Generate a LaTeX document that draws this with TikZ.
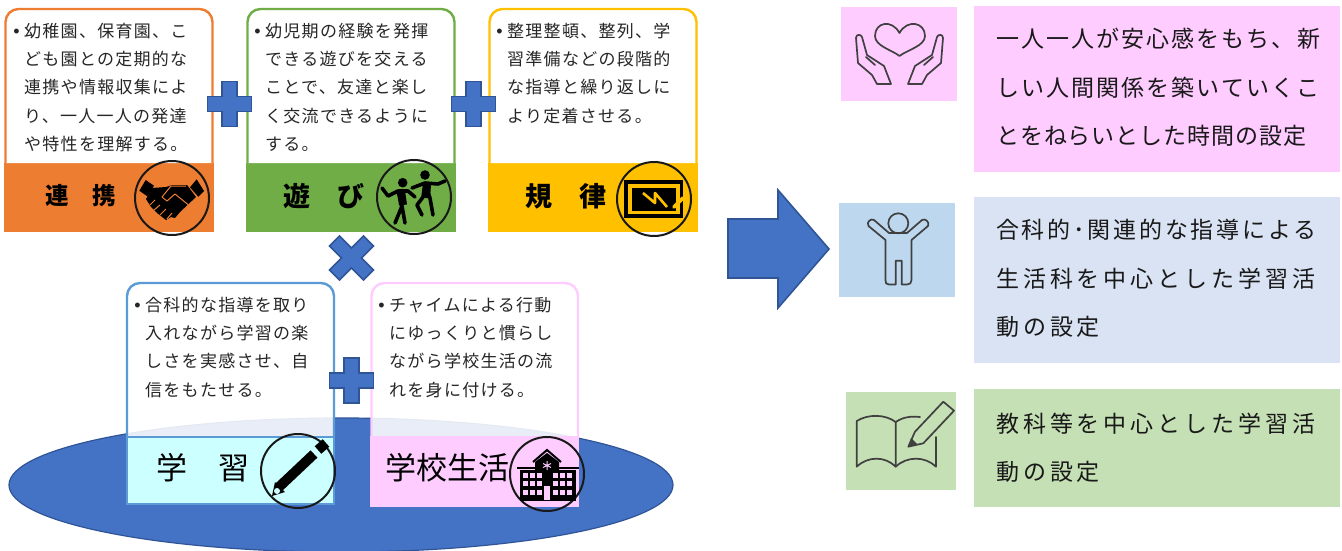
\documentclass[tikz,border=0pt]{standalone}
\usepackage{fontspec}
\usetikzlibrary{shapes.geometric}
\setmainfont{Noto Sans CJK JP}
\newfontfamily\fontS{Noto Sans CJK JP}[LetterSpace=7.5]
\newfontfamily\fontB{Noto Sans CJK JP}[LetterSpace=9]
\newfontfamily\fontN{Noto Sans CJK JP}[LetterSpace=4]
\newfontfamily\fontM{Noto Sans CJK JP}[LetterSpace=12]
\newfontfamily\fontW{Noto Sans CJK JP}[LetterSpace=17]
\newfontfamily\bul{Liberation Sans}
\definecolor{blueA}{HTML}{4472C4}
\definecolor{blueB}{HTML}{2F5597}
\definecolor{orangeA}{HTML}{ED7D31}
\definecolor{greenA}{HTML}{70AD47}
\definecolor{goldA}{HTML}{FFC000}
\definecolor{skyA}{HTML}{5B9BD5}
\definecolor{pinkA}{HTML}{FFCCFF}
\definecolor{cyanA}{HTML}{CCFFFF}
\definecolor{icoA}{HTML}{BDD7EE}
\definecolor{txtB}{HTML}{DAE3F3}
\definecolor{grnB}{HTML}{C5E0B4}
\definecolor{inkA}{HTML}{404040}
\newcommand{\bu}{\llap{\bul\fontsize{18}{18}\selectfont •\hspace{4.5pt}}}
\tikzset{
  x=1pt,y=-1pt,
  bodytext/.style={anchor=north west,inner sep=0pt,align=left,text=black!85,font=\fontS\fontsize{17}{28.2}\selectfont},
  righttext/.style={anchor=north west,inner sep=0pt,align=left,text=black!90,font=\fontB\fontsize{23}{48.5}\selectfont},
  title/.style={inner sep=0pt,text=black,font=\bfseries\fontsize{#1}{#1}\selectfont},
  ring/.style={draw=black!90,line width=2pt,circle,minimum size=74pt,inner sep=0pt},
  solidmark/.style={fill=blueA,draw=blueB,line width=1.6pt,line join=miter},
  outline/.style={draw=inkA,line width=1.7pt,line join=round,line cap=round},
  plusmark/.pic={\path[solidmark] (-22,-7.5)--(-7.5,-7.5)--(-7.5,-22.5)--(7.5,-22.5)--(7.5,-7.5)--(22,-7.5)--(22,7.5)--(7.5,7.5)--(7.5,22.5)--(-7.5,22.5)--(-7.5,7.5)--(-22,7.5)--cycle;},
  timesmark/.pic={\path[solidmark,rotate=45] (-24,-7)--(-7,-7)--(-7,-24)--(7,-24)--(7,-7)--(24,-7)--(24,7)--(7,7)--(7,24)--(-7,24)--(-7,7)--(-24,7)--cycle;},
}
\begin{document}
\begin{tikzpicture}
\useasboundingbox (0,0) rectangle (1342,551);
\fill[white] (0,0) rectangle (1342,551);
% ellipse
\clip (0,0) rectangle (1342,551);
\node[ellipse,draw=blueB,line width=1.2pt,fill=blueA,minimum width=664pt,minimum height=134pt,inner sep=0pt] (base) at (341,485) {};
% upper cards
\fill[orangeA] (4,163) rectangle (214,232);
\fill[greenA] (246,163) rectangle (456,232);
\fill[goldA] (488,163) rectangle (698,232);
\path[draw=orangeA,line width=2.4pt,fill=white,rounded corners=13pt] (5.5,163) -- (5.5,9) -- (212.5,9) -- (212.5,163);
\path[draw=greenA,line width=2.4pt,fill=white,rounded corners=13pt] (247.5,163) -- (247.5,9) -- (454.5,9) -- (454.5,163);
\path[draw=goldA,line width=2.4pt,fill=white,rounded corners=13pt] (489.5,163) -- (489.5,9) -- (696.5,9) -- (696.5,163);
% lower cards
\path[draw=skyA,line width=2.4pt,fill=white,fill opacity=.88,draw opacity=1,rounded corners=13pt] (127,437) -- (127,283) -- (334,283) -- (334,437);
\path[draw=pinkA,line width=2.4pt,fill=white,fill opacity=.88,draw opacity=1,rounded corners=13pt] (371.5,437) -- (371.5,283) -- (578,283) -- (578,437);
\fill[cyanA,draw=skyA,line width=2.4pt] (127,437) rectangle (334,504);
\fill[pinkA] (370,436) rectangle (579,507);
% body text
\node[bodytext] (t1) at (24,23) {\bu 幼稚園、保育園、こ\\ども園との定期的な\\連携や情報収集によ\\り、一人一人の発達\\や特性を理解する。};
\node[bodytext] (t2) at (265,23) {\bu 幼児期の経験を発揮\\できる遊びを交える\\ことで、友達と楽し\\く交流できるように\\する。};
\node[bodytext] (t3) at (507,23) {\bu 整理整頓、整列、学\\習準備などの段階的\\な指導と繰り返しに\\より定着させる。};
\node[bodytext] (t4) at (145,297) {\bu 合科的な指導を取り\\入れながら学習の楽\\しさを実感させ、自\\信をもたせる。};
\node[bodytext] (t5) at (389,297) {\bu チャイムによる行動\\にゆっくりと慣らし\\ながら学校生活の流\\れを身に付ける。};
% titles
\node[title=23.5] (h1) at (81,196) {連　携};
\node[title=27] (h2) at (324,196) {遊　び};
\node[title=27] (h3) at (566,196) {規　律};
\node[title=31,font=\fontsize{31}{31}\selectfont] (h4) at (203,468) {学　習};
\node[title=31,font=\fontsize{31}{31}\selectfont] (h5) at (447,468) {学校生活};
% operators
\pic at (229.5,104) {plusmark};
\pic at (473.5,104) {plusmark};
\pic at (351.5,380.5) {plusmark};
\pic at (351.5,258) {timesmark};
% big arrow
\path[solidmark] (728,219)--(778,219)--(778,190)--(829,249)--(778,308)--(778,278)--(728,278)--cycle;
% rings
\node[ring] (r1) at (172,198) {};
\node[ring] (r2) at (414,197) {};
\node[ring] (r3) at (654,199) {};
\node[ring] (r4) at (298,471) {};
\node[ring] (r5) at (547,474) {};
% handshake
\fill[black] (139.3,190.7)--(145.7,180)--(154,185.7)--(147.3,196.3)--cycle;
\fill[black] (190,187.3)--(196.7,179.3)--(204,191)--(198.3,196.7)--cycle;
\fill[black] (152,188)--(166,187)--(172,185)--(187,185)--(196,197)--(180,212)--(175,218)--(171,217)--(166,220)--(157,213)--(151,207)--(146,199)--cycle;
\draw[orangeA,line width=1pt,line join=round] (186,186)--(171,186)--(162,197)--(167,201)--(175,194)--(191,207);
\draw[orangeA,line width=1pt] (155,200)--(150,205) (160,205)--(154,210) (166,209)--(160,215) (172,213)--(167,219);
% dancers
\fill[black] (402.7,182.7) circle (4.8) (425,175) circle (4.8);
\draw[black,line width=3.6pt,line join=round,line cap=round] (382,188)--(388,196)--(398,191)--(408,191)--(415,197) (398,191)--(402,206)--(395,223) (402,206)--(405,223);
\draw[black,line width=3.6pt,line join=round,line cap=round] (412,188)--(425,183)--(438,184)--(445,181) (425,183)--(423,197)--(417,205)--(422,215) (425,183)--(430,198)--(433,215);
\draw[black,line width=8pt] (401,191)--(403,205) (427,185)--(426,198);
% chalk board
\fill[black] (624,180) rectangle (683,218);
\fill[goldA] (628,184) rectangle (680,214);
\fill[black] (632,188) rectangle (676,211);
\draw[goldA,line width=2.6pt,line join=round] (643,193)--(655,203)--(655,193)--(667,207);
\draw[goldA,line width=3.6pt,line cap=round] (674,207)--(683,198);
% pencil
\draw[black,line width=10pt] (279,487)--(314,454);
\draw[black,line width=10pt] (318,450)--(326,443);
\fill[black] (272,496)--(275,482)--(285,492)--cycle;
\fill[cyanA] (277,491) circle (3);
% school
\fill[black] (520,470) rectangle (576,501);
\draw[black,line width=1.6pt] (517,468)--(579,468);
\fill[black] (535,470)--(535,462)--(547,453)--(559,462)--(559,470)--cycle;
\draw[black,line width=2pt] (533,462)--(547,450)--(561,462);
\foreach \x in {523,530,537,553,560,567}{\foreach \y in {473,481,490}{\fill[pinkA] (\x,\y) rectangle ++(5,5);}}
\fill[pinkA] (544,486) rectangle (550,500);
\draw[pinkA,line width=1pt] (547,461)--(547,470) (543,463.5)--(551,467.5) (551,463.5)--(543,467.5);
% right rectangles
\fill[pinkA] (841,7) rectangle (957,101);
\fill[pinkA] (974,6) rectangle (1340,172);
\fill[icoA] (839,203) rectangle (955,297);
\fill[txtB] (974,197) rectangle (1340,363);
\fill[grnB] (846,392) rectangle (956,490);
\fill[grnB] (974,389) rectangle (1340,507);
% right text
\node[righttext] (g1) at (996,28) {一人一人が安心感をもち、新\\しい人間関係を築いていくこ\\{\fontN とをねらいとした時間の設定}};
\node[righttext] (g2) at (996,219) {{\fontM 合科的･関連的な指導による}\\{\fontW 生活科を中心とした学習活}\\{\fontW 動の設定}};
\node[righttext] (g3) at (996,412.5) {{\fontW 教科等を中心とした学習活}\\{\fontW 動の設定}};
% heart hands
\draw[outline] (899.5,33) .. controls (892,19) and (875,22) .. (875,36) .. controls (875,46) and (892,50) .. (899.5,56) .. controls (907,50) and (925,46) .. (925,36) .. controls (925,22) and (907,19) .. (899.5,33) -- cycle;
\draw[outline] (856,38) .. controls (856,34) and (861,34) .. (862,37) -- (867,55) -- (884,66) -- (891,84) -- (877,84) -- (872,75) -- (858,63) -- cycle;
\draw[outline] (866,57) -- (875,65);
\draw[outline] (943,38) .. controls (943,34) and (938,34) .. (937,37) -- (932,55) -- (915,66) -- (908,84) -- (922,84) -- (927,75) -- (941,63) -- cycle;
\draw[outline] (933,57) -- (924,65);
% person
\draw[outline] (898.3,223.3) circle (10);
\draw[outline] (885.5,240) -- (868.5,226) .. controls (866,222) and (871,218) .. (874,220) -- (889,233) -- (907,233) -- (922,220) .. controls (925,218) and (930,222) .. (928,226) -- (911.5,240) -- (911.5,280) .. controls (911.5,283) and (910,284.5) .. (907,284.5) -- (901.7,284.5) -- (901.7,260.7) -- (895.7,260.7) -- (895.7,284.5) -- (889,284.5) .. controls (886,284.5) and (885.5,283) .. (885.5,280) -- cycle;
% book and pencil
\draw[outline] (895.7,466.7) .. controls (885,456) and (868,456) .. (856.7,466.7) -- (856.7,421) .. controls (868,414) and (885,414) .. (895.7,422) -- cycle;
\draw[outline] (895.7,422) .. controls (903,417) and (911,416) .. (920,417);
\draw[outline] (936,437) -- (936,466.7) .. controls (925,456) and (907,456) .. (895.7,466.7);
\draw[outline] (908.3,446.7) -- (915,431.7) -- (943.3,401.7) -- (954,410.7) -- (923.3,443.3) -- cycle;
\fill[inkA] (908.3,446.7) -- (911,438) -- (917,444) -- cycle;
\end{tikzpicture}
\end{document}
